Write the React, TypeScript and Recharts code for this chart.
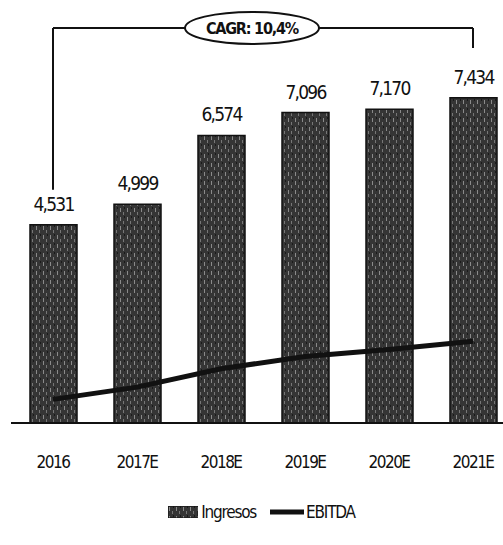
import { BarChart, Bar, Line, XAxis, YAxis, LabelList, ReferenceLine } from "recharts";

const categories = ["2016", "2017E", "2018E", "2019E", "2020E", "2021E"];
const ingresos = [4531, 4999, 6574, 7096, 7170, 7434];
const ebitda = [540, 820, 1240, 1520, 1680, 1870];
const cagrText = "CAGR: 10,4%";
// bracket levels in value units
const bracketTop = 9030;
const bracketLeftEnd = 5330;
const bracketRightEnd = 8570;

const data = categories.map((c, i) => ({ year: c, ingresos: ingresos[i], ebitda: ebitda[i] }));

const FONT = "'Liberation Sans Narrow', 'DejaVu Sans Condensed', 'Roboto Condensed', sans-serif";

function BracketTop(props: any) {
  const { x1, x2, y1 } = props;
  const cx = (x1 + x2) / 2 - 11;
  return (
    <g>
      <line x1={x1} x2={x2} y1={y1} y2={y1} stroke="#111" strokeWidth={2} />
      <ellipse cx={cx} cy={y1} rx={67} ry={16} fill="#fff" stroke="#111" strokeWidth={2} />
      <text x={cx} y={y1 + 6} textAnchor="middle" fontFamily={FONT} fontSize={16} fontWeight="bold" letterSpacing={-1.2} fill="#111">
        {cagrText}
      </text>
    </g>
  );
}

export default function App() {
  return (
    <div style={{ position: "absolute", left: 0, top: 0, width: 503, height: 545, overflow: "hidden", background: "#fff" }}>
      <BarChart
        width={520}
        height={545}
        data={data}
        margin={{ top: 3, right: 5, bottom: 82, left: 11 }}
        barCategoryGap={37}
      >
        <defs>
          <pattern id="tex" width="7" height="9" patternUnits="userSpaceOnUse">
            <rect width="7" height="9" fill="#353535" />
            <rect x="1" y="1" width="1" height="4" fill="#8a8a8a" />
            <rect x="4" y="5" width="1" height="3" fill="#777" />
            <rect x="5" y="0" width="1" height="2" fill="#1a1a1a" />
          </pattern>
        </defs>
        <XAxis
          dataKey="year"
          height={40}
          axisLine={{ stroke: "#111", strokeWidth: 2 }}
          tickLine={false}
          tick={{ fill: "#111", fontSize: 17, fontFamily: FONT, letterSpacing: -1.5 }}
          tickMargin={27}
        />
        <YAxis hide domain={[0, 9600]} />
        <Bar dataKey="ingresos" fill="url(#tex)" stroke="#111" strokeWidth={1.5} barSize={47} isAnimationActive={false}>
          <LabelList
            dataKey="ingresos"
            position="top"
            offset={14}
            formatter={(v: any) => Number(v).toLocaleString("en-US")}
            style={{ fill: "#111", fontSize: 19, fontFamily: FONT, letterSpacing: -1.8 }}
          />
        </Bar>
        <Line dataKey="ebitda" type="linear" stroke="#111" strokeWidth={5} dot={false} isAnimationActive={false} />
        <ReferenceLine
          segment={[{ x: "2016", y: bracketLeftEnd }, { x: "2016", y: bracketTop }]}
          stroke="#111"
          strokeWidth={2}
          ifOverflow="visible"
        />
        <ReferenceLine
          segment={[{ x: "2021E", y: bracketRightEnd }, { x: "2021E", y: bracketTop }]}
          stroke="#111"
          strokeWidth={2}
          ifOverflow="visible"
        />
        <ReferenceLine
          segment={[{ x: "2016", y: bracketTop }, { x: "2021E", y: bracketTop }]}
          shape={BracketTop}
          ifOverflow="visible"
        />
      </BarChart>
      <div
        style={{
          position: "absolute",
          top: 502,
          left: 0,
          width: 503,
          display: "flex",
          justifyContent: "center",
          alignItems: "center",
          fontFamily: FONT,
          fontSize: 17,
          letterSpacing: -1.2,
          color: "#111",
          gap: 14,
          paddingLeft: 10,
        }}
      >
        <span style={{ display: "flex", alignItems: "center", gap: 3 }}>
          <svg width={30} height={12}>
            <rect width={30} height={12} fill="url(#tex)" stroke="#111" />
          </svg>
          Ingresos
        </span>
        <span style={{ display: "flex", alignItems: "center", gap: 2 }}>
          <svg width={34} height={12}>
            <line x1={0} x2={34} y1={6} y2={6} stroke="#111" strokeWidth={5} />
          </svg>
          EBITDA
        </span>
      </div>
    </div>
  );
}
